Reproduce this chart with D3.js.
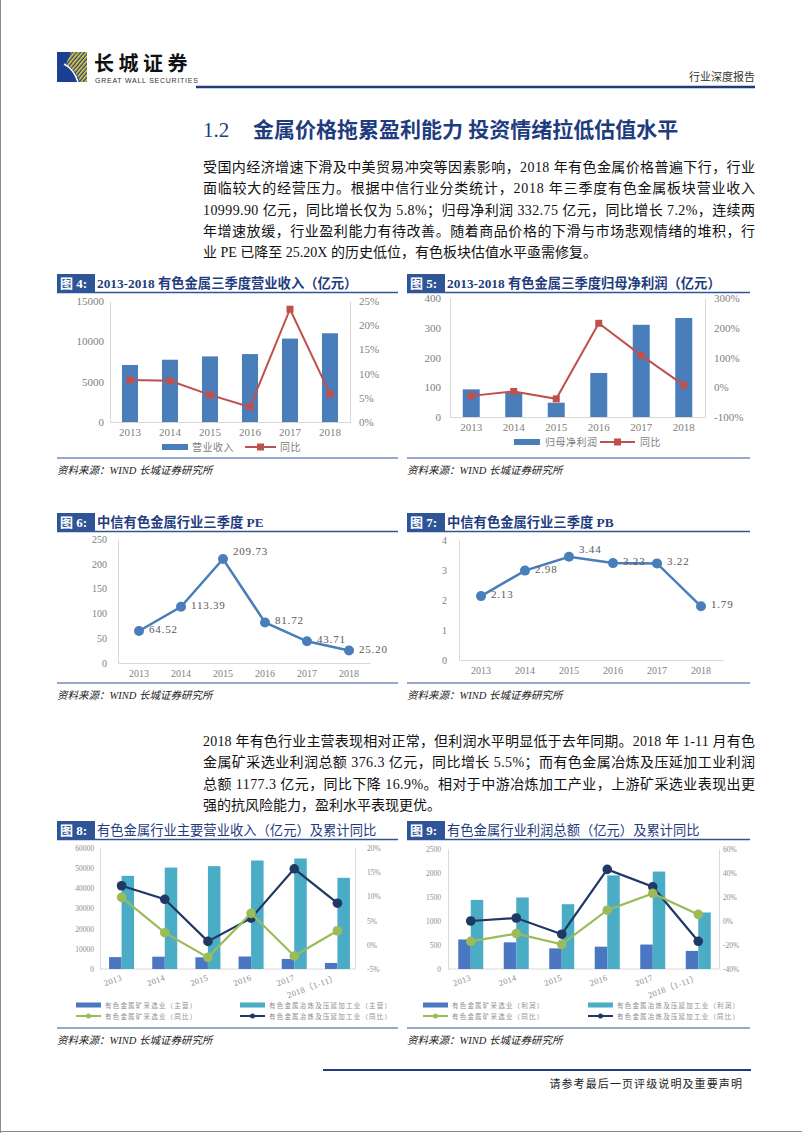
<!DOCTYPE html>
<html>
<head>
<meta charset="utf-8">
<script src="https://cdn.jsdelivr.net/npm/d3@7"></script>
<style>
  body { margin: 0; background: #fff; }
  svg { display: block; }
</style>
</head>
<body>
<script>
// ---- data ----
var years = ["2013", "2014", "2015", "2016", "2017", "2018"];
var periods = ["2013", "2014", "2015", "2016", "2017", "2018（1-11）"];

// 图4 营业收入 (亿元) / 同比 (%)
var revenue = [7070, 7720, 8130, 8420, 10340, 10999.9];
var revenueYoY = [8.7, 8.5, 5.6, 3.1, 23.3, 5.8];
var ticks4L = [0, 5000, 10000, 15000];
var ticks4R = [0, 5, 10, 15, 20, 25];

// 图5 归母净利润 (亿元) / 同比 (%)
var profit = [93, 83, 48, 148, 310, 332.75];
var profitYoY = [-29, -14, -39, 215, 107, 7.2];
var ticks5L = [0, 100, 200, 300, 400];
var ticks5R = [-100, 0, 100, 200, 300];

// 图6 PE, 图7 PB
var pe = [64.52, 113.39, 209.73, 81.72, 43.71, 25.20];
var ticks6 = [0, 50, 100, 150, 200, 250];
var pb = [2.13, 2.98, 3.44, 3.23, 3.22, 1.79];
var ticks7 = [0, 1, 2, 3, 4];

// 图8 主营收入 (亿元) / 累计同比 (%)
var miningRev = [5900, 6100, 5800, 6200, 5000, 3000];
var smeltRev = [46200, 50300, 51000, 53800, 54800, 45200];
var miningRevYoY = [9.8, 2.5, -2.6, 6.5, -2.3, 2.9];
var smeltRevYoY = [12.2, 9.4, 0.7, 5.5, 15.7, 8.6];
var ticks8L = [0, 10000, 20000, 30000, 40000, 50000, 60000];
var ticks8R = [-5, 0, 5, 10, 15, 20];
var legend8 = ["有色金属矿采选业（主营）", "有色金属冶炼及压延加工业（主营）",
               "有色金属矿采选业（同比）", "有色金属冶炼及压延加工业（同比）"];

// 图9 利润总额 (亿元) / 累计同比 (%)
var miningProfit = [615, 555, 430, 465, 510, 376.3];
var smeltProfit = [1440, 1490, 1350, 1950, 2030, 1177.3];
var miningProfitYoY = [-17, -10.5, -19.5, 9, 23, 5.5];
var smeltProfitYoY = [0, 2.5, -11, 43, 28.5, -16.9];
var ticks9L = [0, 500, 1000, 1500, 2000, 2500];
var ticks9R = [-40, -20, 0, 20, 40, 60];
var legend9 = ["有色金属矿采选业（利润）", "有色金属冶炼及压延加工业（利润）",
               "有色金属矿采选业（同比）", "有色金属冶炼及压延加工业（同比）"];

var para1 = [
  "受国内经济增速下滑及中美贸易冲突等因素影响，2018 年有色金属价格普遍下行，行业",
  "面临较大的经营压力。根据中信行业分类统计，2018 年三季度有色金属板块营业收入",
  "10999.90 亿元，同比增长仅为 5.8%；归母净利润 332.75 亿元，同比增长 7.2%，连续两",
  "年增速放缓，行业盈利能力有待改善。随着商品价格的下滑与市场悲观情绪的堆积，行",
  "业 PE 已降至 25.20X 的历史低位，有色板块估值水平亟需修复。"
];
var para2 = [
  "2018 年有色行业主营表现相对正常，但利润水平明显低于去年同期。2018 年 1-11 月有色",
  "金属矿采选业利润总额 376.3 亿元，同比增长 5.5%；而有色金属冶炼及压延加工业利润",
  "总额 1177.3 亿元，同比下降 16.9%。相对于中游冶炼加工产业，上游矿采选业表现出更",
  "强的抗风险能力，盈利水平表现更优。"
];

// ---- styles ----
var FONT = '"Liberation Serif", "Noto Sans CJK SC", serif';
var NAVY = "#1f3c7e";
var BOX = "#2e5597";
var BAR = "#4a7ebb";
var RED = "#c0504d";
var GRID = "#d9d9d9";
var TICK = "#808080";
var BAR_DARK = "#4a76c2";
var BAR_LIGHT = "#4bacc6";
var LINE_NAVY = "#1f3864";
var LINE_GREEN = "#9bbb59";

var plain = d3.format("d");

var svg = d3.select("body").append("svg")
    .attr("width", 802)
    .attr("height", 1133)
    .style("font-family", FONT);

// page frame
svg.append("line").attr("x1", 0.5).attr("y1", 0).attr("x2", 0.5).attr("y2", 1133)
    .attr("stroke", "#8c8c8c");
svg.append("line").attr("x1", 0).attr("y1", 1131.5).attr("x2", 802).attr("y2", 1131.5)
    .attr("stroke", "#8c8c8c");

// ---- header ----
var defs = svg.append("defs");
defs.append("pattern").attr("id", "stripes")
    .attr("width", 3).attr("height", 3)
    .attr("patternUnits", "userSpaceOnUse")
    .attr("patternTransform", "rotate(40)")
    .append("rect").attr("width", 1.6).attr("height", 3).attr("fill", "#f0d22a");

svg.append("rect").attr("x", 57).attr("y", 52).attr("width", 30).attr("height", 30)
    .attr("fill", "#1d3f93");
svg.append("path")
    .attr("d", "M71,52 L87,52 L87,82 L80,82 Q76,70 66,64 Z")
    .attr("fill", "url(#stripes)");
svg.append("path")
    .attr("d", "M64,64 Q74,69 78,82")
    .attr("fill", "none").attr("stroke", "#fff").attr("stroke-width", 1.5);

svg.append("text").attr("x", 94).attr("y", 71)
    .attr("font-size", 20).attr("font-weight", "bold").attr("letter-spacing", 4.5)
    .attr("fill", "#111").text("长城证券");
svg.append("text").attr("x", 95).attr("y", 83)
    .attr("font-family", "Liberation Sans, sans-serif")
    .attr("font-size", 7).attr("letter-spacing", 0.75)
    .attr("fill", "#333").text("GREAT WALL SECURITIES");

svg.append("line").attr("x1", 196).attr("y1", 87).attr("x2", 755).attr("y2", 87)
    .attr("stroke", NAVY).attr("stroke-width", 2.5);
svg.append("text").attr("x", 755).attr("y", 81).attr("text-anchor", "end")
    .attr("font-size", 11).attr("fill", "#333").text("行业深度报告");

// section title
svg.append("text").attr("x", 203).attr("y", 137)
    .attr("font-size", 21).attr("fill", NAVY).text("1.2");
svg.append("text").attr("x", 253).attr("y", 137)
    .attr("font-size", 21).attr("font-weight", "bold").attr("fill", NAVY)
    .text("金属价格拖累盈利能力 投资情绪拉低估值水平");

function paragraph(lines, x, y0, lh, width) {
    lines.forEach((t, i) => {
        let el = svg.append("text")
            .attr("x", x)
            .attr("y", y0 + i * lh)
            .attr("font-size", 14)
            .attr("fill", "#111")
            .text(t);
        if (i < lines.length - 1) {
            el.attr("textLength", width).attr("lengthAdjust", "spacing");
        }
    });
}

paragraph(para1, 203, 172, 21.3, 552);
paragraph(para2, 203, 746, 21.3, 552);

// ---- figure helpers ----
function figHeader(x, y, w, label, title, bold) {
    svg.append("rect").attr("x", x).attr("y", y).attr("width", 38).attr("height", 18)
        .attr("fill", BOX);
    svg.append("text").attr("x", x + 3).attr("y", y + 14)
        .attr("font-size", 13).attr("font-weight", "bold").attr("fill", "#fff")
        .text(label);
    svg.append("text").attr("x", x + 40).attr("y", y + 14)
        .attr("font-size", 13.3).attr("font-weight", bold ? "bold" : "normal")
        .attr("fill", NAVY).text(title);
    svg.append("line").attr("x1", x).attr("y1", y + 18.5).attr("x2", x + w).attr("y2", y + 18.5)
        .attr("stroke", BOX).attr("stroke-width", 1.5);
}

function figFooter(x, y, w) {
    svg.append("line").attr("x1", x).attr("y1", y).attr("x2", x + w).attr("y2", y)
        .attr("stroke", BOX).attr("stroke-width", 1.2);
    svg.append("text").attr("x", x).attr("y", y + 16)
        .attr("font-size", 10.5).attr("font-style", "italic").attr("fill", "#222")
        .text("资料来源：WIND 长城证券研究所");
}

function styleAxis(g, size, color) {
    g.attr("font-family", FONT).attr("font-size", size).attr("color", color);
    g.select(".domain").attr("stroke", GRID);
}

// ---- 图4 ----
figHeader(57, 274, 341, "图 4:", "2013-2018 有色金属三季度营业收入（亿元）", true);

let x4 = d3.scaleBand().domain(years).range([110, 350]).paddingInner(0.6).paddingOuter(0.3);
let y4L = d3.scaleLinear().domain([0, 15000]).range([422, 301]);
let y4R = d3.scaleLinear().domain([0, 25]).range([422, 301]);

svg.append("g").attr("transform", "translate(110,0)")
    .call(d3.axisLeft(y4L).tickValues(ticks4L).tickFormat(plain).tickSize(0).tickPadding(6))
    .call(g => styleAxis(g, 11, TICK));
svg.append("g").attr("transform", "translate(350,0)")
    .call(d3.axisRight(y4R).tickValues(ticks4R).tickFormat(d => d + "%").tickSize(0).tickPadding(9))
    .call(g => styleAxis(g, 11, TICK));
svg.append("g").attr("transform", "translate(0,422)")
    .call(d3.axisBottom(x4).tickSize(0).tickPadding(6))
    .call(g => styleAxis(g, 11, TICK));

svg.selectAll(".bar4")
    .data(revenue)
    .enter()
    .append("rect")
    .attr("x", (d, i) => x4(years[i]))
    .attr("y", d => y4L(d))
    .attr("width", x4.bandwidth())
    .attr("height", d => y4L(0) - y4L(d))
    .attr("fill", BAR);

let line4 = d3.line()
    .x((d, i) => x4(years[i]) + x4.bandwidth() / 2)
    .y(d => y4R(d));
svg.append("path").datum(revenueYoY).attr("d", line4)
    .attr("fill", "none").attr("stroke", RED).attr("stroke-width", 2);
svg.selectAll(".mk4")
    .data(revenueYoY)
    .enter()
    .append("rect")
    .attr("x", (d, i) => x4(years[i]) + x4.bandwidth() / 2 - 3.5)
    .attr("y", d => y4R(d) - 3.5)
    .attr("width", 7).attr("height", 7)
    .attr("fill", RED);

// legend
svg.append("rect").attr("x", 162).attr("y", 444).attr("width", 26).attr("height", 6).attr("fill", BAR);
svg.append("text").attr("x", 192).attr("y", 451).attr("font-size", 10).attr("letter-spacing", 0.5)
    .attr("fill", TICK).text("营业收入");
svg.append("line").attr("x1", 245).attr("y1", 447).attr("x2", 276).attr("y2", 447)
    .attr("stroke", RED).attr("stroke-width", 2);
svg.append("rect").attr("x", 257).attr("y", 443.5).attr("width", 7).attr("height", 7).attr("fill", RED);
svg.append("text").attr("x", 280).attr("y", 451).attr("font-size", 10).attr("letter-spacing", 0.5)
    .attr("fill", TICK).text("同比");

figFooter(57, 458, 341);

// ---- 图5 ----
figHeader(407, 274, 343, "图 5:", "2013-2018 有色金属三季度归母净利润（亿元）", true);

let x5 = d3.scaleBand().domain(years).range([450, 705]).paddingInner(0.6).paddingOuter(0.3);
let y5L = d3.scaleLinear().domain([0, 400]).range([417, 298]);
let y5R = d3.scaleLinear().domain([-100, 300]).range([417, 298]);

svg.append("g").attr("transform", "translate(450,0)")
    .call(d3.axisLeft(y5L).tickValues(ticks5L).tickFormat(plain).tickSize(0).tickPadding(9))
    .call(g => styleAxis(g, 11, TICK));
svg.append("g").attr("transform", "translate(705,0)")
    .call(d3.axisRight(y5R).tickValues(ticks5R).tickFormat(d => d + "%").tickSize(0).tickPadding(9))
    .call(g => styleAxis(g, 11, TICK));
svg.append("g").attr("transform", "translate(0,417)")
    .call(d3.axisBottom(x5).tickSize(0).tickPadding(6))
    .call(g => styleAxis(g, 11, TICK));

svg.selectAll(".bar5")
    .data(profit)
    .enter()
    .append("rect")
    .attr("x", (d, i) => x5(years[i]))
    .attr("y", d => y5L(d))
    .attr("width", x5.bandwidth())
    .attr("height", d => y5L(0) - y5L(d))
    .attr("fill", BAR);

let line5 = d3.line()
    .x((d, i) => x5(years[i]) + x5.bandwidth() / 2)
    .y(d => y5R(d));
svg.append("path").datum(profitYoY).attr("d", line5)
    .attr("fill", "none").attr("stroke", RED).attr("stroke-width", 2);
svg.selectAll(".mk5")
    .data(profitYoY)
    .enter()
    .append("rect")
    .attr("x", (d, i) => x5(years[i]) + x5.bandwidth() / 2 - 3.5)
    .attr("y", d => y5R(d) - 3.5)
    .attr("width", 7).attr("height", 7)
    .attr("fill", RED);

svg.append("rect").attr("x", 514).attr("y", 439).attr("width", 26).attr("height", 6).attr("fill", BAR);
svg.append("text").attr("x", 545).attr("y", 446).attr("font-size", 10).attr("letter-spacing", 0.5)
    .attr("fill", TICK).text("归母净利润");
svg.append("line").attr("x1", 600).attr("y1", 442).attr("x2", 635).attr("y2", 442)
    .attr("stroke", RED).attr("stroke-width", 2);
svg.append("rect").attr("x", 614).attr("y", 438.5).attr("width", 7).attr("height", 7).attr("fill", RED);
svg.append("text").attr("x", 640).attr("y", 446).attr("font-size", 10).attr("letter-spacing", 0.5)
    .attr("fill", TICK).text("同比");

figFooter(407, 458, 343);

// ---- 图6 / 图7 line charts ----
function lineChart(values, ticks, domainMax, x0, x1, yTop, yBot, pad, fmt) {
    let x = d3.scaleBand().domain(years).range([x0, x1]);
    let y = d3.scaleLinear().domain([0, domainMax]).range([yBot, yTop]);
    let cx = (d, i) => x(years[i]) + x.bandwidth() / 2;

    svg.append("g").attr("transform", "translate(" + x0 + ",0)")
        .call(d3.axisLeft(y).tickValues(ticks).tickFormat(plain).tickSize(0).tickPadding(pad))
        .call(g => styleAxis(g, 10, TICK));
    svg.append("g").attr("transform", "translate(0," + yBot + ")")
        .call(d3.axisBottom(x).tickSize(0).tickPadding(7))
        .call(g => styleAxis(g, 10, TICK));

    svg.append("path").datum(values)
        .attr("d", d3.line().x(cx).y(d => y(d)))
        .attr("fill", "none").attr("stroke", BAR).attr("stroke-width", 2.5);
    svg.selectAll(null)
        .data(values)
        .enter()
        .append("circle")
        .attr("cx", cx)
        .attr("cy", d => y(d))
        .attr("r", 5)
        .attr("fill", BAR);

    // labels: peaks sit a bit higher
    svg.selectAll(null)
        .data(values)
        .enter()
        .append("text")
        .attr("x", (d, i) => cx(d, i) + 10)
        .attr("y", (d, i) => {
            let peak = (i > 0 && i < values.length - 1 && d > values[i - 1] && d > values[i + 1]);
            return y(d) + (peak ? -4 : 2);
        })
        .attr("font-size", 11)
        .attr("letter-spacing", 0.8)
        .attr("fill", "#595959")
        .text(d => fmt(d));
}

figHeader(57, 513, 341, "图 6:", "中信有色金属行业三季度 PE", true);
lineChart(pe, ticks6, 250, 118, 370, 539, 663, 11, d3.format(".2f"));
figFooter(57, 683, 341);

figHeader(407, 513, 343, "图 7:", "中信有色金属行业三季度 PB", true);
lineChart(pb, ticks7, 4, 459, 723, 540, 660, 12, d3.format(".2f"));
figFooter(407, 683, 343);

// ---- 图8 / 图9 grouped bar + line ----
function groupChart(cfg) {
    let x = d3.scaleBand().domain(periods).range([cfg.x0, cfg.x1]);
    let yL = d3.scaleLinear().domain(cfg.leftDomain).range([cfg.yBot, cfg.yTop]);
    let yR = d3.scaleLinear().domain(cfg.rightDomain).range([cfg.yBot, cfg.yTop]);
    let cx = (d, i) => x(periods[i]) + x.bandwidth() / 2;
    let bw = 12.5;

    svg.append("g").attr("transform", "translate(" + cfg.x0 + ",0)")
        .call(d3.axisLeft(yL).tickValues(cfg.ticksL).tickFormat(plain).tickSize(0).tickPadding(cfg.padL))
        .call(g => styleAxis(g, 7.5, "#8c8c8c"));
    svg.append("g").attr("transform", "translate(" + cfg.xR + ",0)")
        .call(d3.axisRight(yR).tickValues(cfg.ticksR).tickFormat(d => d + "%").tickSize(0).tickPadding(cfg.padR))
        .call(g => styleAxis(g, 7.5, "#8c8c8c"));
    svg.append("line").attr("x1", cfg.x0).attr("y1", cfg.yBot).attr("x2", cfg.xR).attr("y2", cfg.yBot)
        .attr("stroke", GRID);

    svg.selectAll(null)
        .data(periods)
        .enter()
        .append("text")
        .attr("transform", (d, i) => "translate(" + (cx(d, i) + 1) + "," + (cfg.yBot + 11) + ") rotate(-20)")
        .attr("text-anchor", "end")
        .attr("font-size", 8.5)
        .attr("letter-spacing", 0.4)
        .attr("fill", "#8c8c8c")
        .text(d => d);

    svg.selectAll(null)
        .data(cfg.dark)
        .enter()
        .append("rect")
        .attr("x", (d, i) => cx(d, i) - bw)
        .attr("y", d => yL(d))
        .attr("width", bw)
        .attr("height", d => yL(0) - yL(d))
        .attr("fill", BAR_DARK);
    svg.selectAll(null)
        .data(cfg.light)
        .enter()
        .append("rect")
        .attr("x", (d, i) => cx(d, i))
        .attr("y", d => yL(d))
        .attr("width", bw)
        .attr("height", d => yL(0) - yL(d))
        .attr("fill", BAR_LIGHT);

    [[cfg.darkYoY, LINE_NAVY], [cfg.greenYoY, LINE_GREEN]].forEach(s => {
        svg.append("path").datum(s[0])
            .attr("d", d3.line().x(cx).y(d => yR(d)))
            .attr("fill", "none").attr("stroke", s[1]).attr("stroke-width", 2.2);
        svg.selectAll(null)
            .data(s[0])
            .enter()
            .append("circle")
            .attr("cx", cx)
            .attr("cy", d => yR(d))
            .attr("r", 4.8)
            .attr("fill", s[1]);
    });

    // legend
    let lx = [cfg.lx0, cfg.lx1];
    let ly = [cfg.yBot + 36, cfg.yBot + 47];
    svg.append("rect").attr("x", lx[0]).attr("y", ly[0] - 2.5).attr("width", 25).attr("height", 5).attr("fill", BAR_DARK);
    svg.append("rect").attr("x", lx[1]).attr("y", ly[0] - 2.5).attr("width", 25).attr("height", 5).attr("fill", BAR_LIGHT);
    svg.append("line").attr("x1", lx[0]).attr("y1", ly[1]).attr("x2", lx[0] + 25).attr("y2", ly[1])
        .attr("stroke", LINE_GREEN).attr("stroke-width", 2);
    svg.append("circle").attr("cx", lx[0] + 12.5).attr("cy", ly[1]).attr("r", 2.5).attr("fill", LINE_GREEN);
    svg.append("line").attr("x1", lx[1]).attr("y1", ly[1]).attr("x2", lx[1] + 25).attr("y2", ly[1])
        .attr("stroke", LINE_NAVY).attr("stroke-width", 2);
    svg.append("circle").attr("cx", lx[1] + 12.5).attr("cy", ly[1]).attr("r", 2.5).attr("fill", LINE_NAVY);
    cfg.legend.forEach((t, i) => {
        svg.append("text")
            .attr("x", lx[i % 2] + 29)
            .attr("y", ly[Math.floor(i / 2)] + 2.5)
            .attr("font-size", 6.5)
            .attr("letter-spacing", 1.2)
            .attr("fill", "#8c8c8c")
            .text(t);
    });
}

figHeader(57, 821, 341, "图 8:", "有色金属行业主要营业收入（亿元）及累计同比", false);
groupChart({
    x0: 100, x1: 359, xR: 355, yTop: 848, yBot: 969,
    leftDomain: [0, 60000], rightDomain: [-5, 20],
    ticksL: ticks8L, ticksR: ticks8R, padL: 6, padR: 12,
    dark: miningRev, light: smeltRev,
    darkYoY: smeltRevYoY, greenYoY: miningRevYoY,
    legend: legend8, lx0: 76, lx1: 240
});
figFooter(57, 1028, 341);

figHeader(407, 821, 343, "图 9:", "有色金属行业利润总额（亿元）及累计同比", false);
groupChart({
    x0: 448, x1: 721, xR: 719, yTop: 849, yBot: 969,
    leftDomain: [0, 2500], rightDomain: [-40, 60],
    ticksL: ticks9L, ticksR: ticks9R, padL: 7, padR: 4,
    dark: miningProfit, light: smeltProfit,
    darkYoY: smeltProfitYoY, greenYoY: miningProfitYoY,
    legend: legend9, lx0: 423, lx1: 588
});
figFooter(407, 1028, 343);

// ---- footer ----
svg.append("line").attr("x1", 323).attr("y1", 1070).attr("x2", 751).attr("y2", 1070)
    .attr("stroke", NAVY).attr("stroke-width", 2);
svg.append("text").attr("x", 743).attr("y", 1088).attr("text-anchor", "end")
    .attr("font-size", 11).attr("letter-spacing", 1.1).attr("fill", "#222")
    .text("请参考最后一页评级说明及重要声明");
</script>
</body>
</html>
